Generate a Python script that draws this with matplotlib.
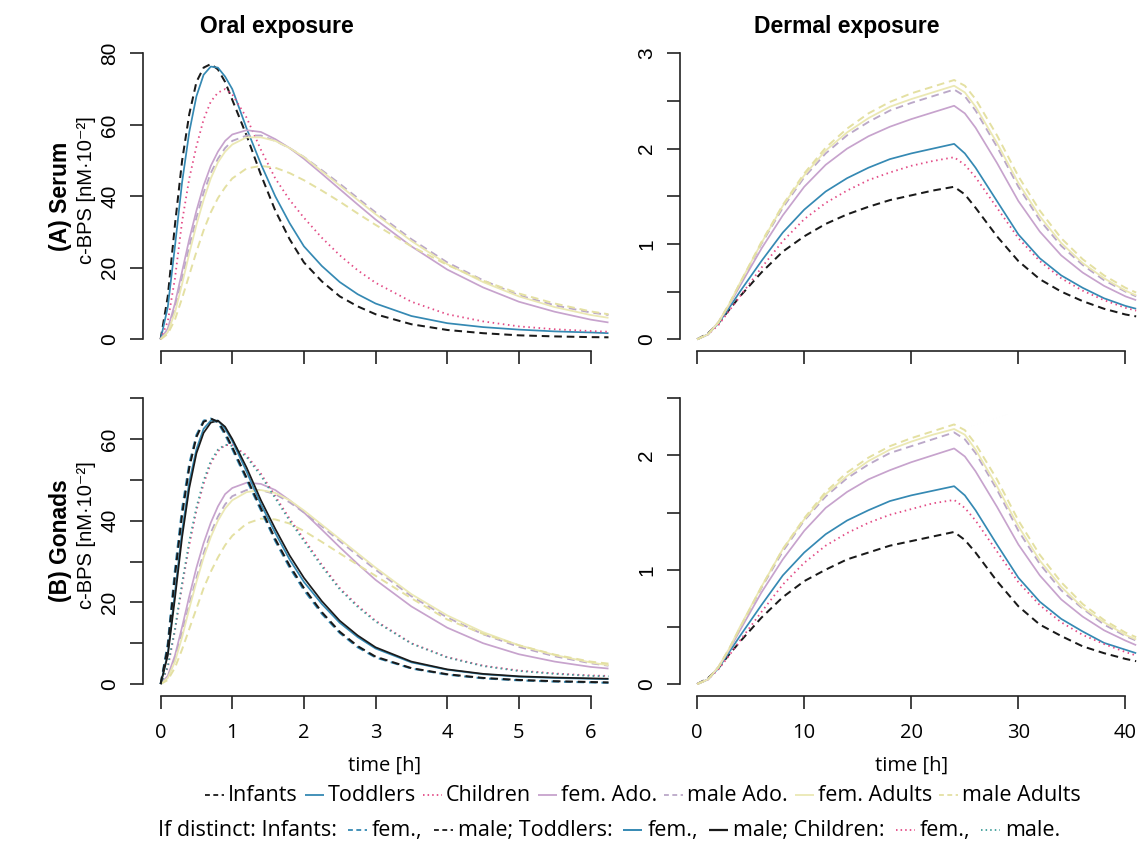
import matplotlib
matplotlib.use('Agg')
import matplotlib.pyplot as plt
from matplotlib.lines import Line2D

plt.rcParams['lines.scale_dashes'] = False

# ---------------- data ----------------
T_ORAL = [0, 0.1, 0.2, 0.3, 0.4, 0.5, 0.6, 0.7, 0.8, 0.9, 1.0, 1.2, 1.4, 1.6, 1.8,
          2.0, 2.25, 2.5, 2.75, 3.0, 3.5, 4.0, 4.5, 5.0, 5.5, 6.0, 6.25]
T_DERM = [0, 1, 2, 3, 4, 6, 8, 10, 12, 14, 16, 18, 20, 22, 24, 25, 26, 28, 30,
          32, 34, 36, 38, 40, 41]

# (A) Serum, oral exposure
serum_oral_infants = [0, 12, 32, 50, 63, 72, 76, 77, 75.5, 72, 67, 57, 46, 36, 28,
                      21.5, 16.2, 12, 9.2, 7, 4.2, 2.6, 1.7, 1.1, 0.8, 0.6, 0.55]
serum_oral_toddlers = [0, 9, 26, 44, 58, 68, 74, 76.3, 76, 73.5, 70, 59, 49, 40, 32.5,
                       26, 20.5, 16, 12.6, 10, 6.5, 4.5, 3.4, 2.7, 2.2, 1.9, 1.7]
serum_oral_children = [0, 5, 17, 33, 45, 54, 61.5, 66.5, 69, 70, 68.5, 62, 53, 45, 39,
                       34, 28.4, 23.5, 19.3, 15.8, 10.5, 7, 5, 3.6, 2.8, 2.3, 2.1]
serum_oral_femado = [0, 3, 10, 19, 28, 36, 43, 48.5, 52.5, 55.5, 57.3, 58.5, 58, 56, 53.5,
                     50.5, 46.3, 42, 37.7, 33.5, 26, 19.5, 14.5, 10.5, 7.7, 5.5, 4.7]
serum_oral_maleado = [0, 2.5, 8.5, 17, 26, 34, 41, 46.5, 50.5, 53.5, 55.5, 57, 57, 55.5, 53.5,
                      51, 47.3, 43.5, 39.5, 35.5, 28, 21.5, 16.5, 12.3, 9.5, 7.5, 6.8]
serum_oral_femadu = [0, 2, 7.5, 15.5, 24, 32, 39, 45, 49.5, 52.5, 54.5, 56.5, 56.5, 55.5, 53.5,
                     51, 47, 43, 39, 35, 27.5, 21, 16, 12, 9, 6.8, 6.0]
serum_oral_maleadu = [0, 1.5, 5.5, 11.5, 18, 24.5, 30.5, 35.5, 39.5, 42.5, 45, 47.8, 48.5, 48, 46.5,
                      44.5, 41.6, 38.5, 35.2, 32, 26, 20.8, 16.4, 12.8, 10, 7.8, 7.0]

# (A) Serum, dermal exposure
serum_derm_infants = [0, 0.06, 0.17, 0.31, 0.45, 0.70, 0.92, 1.08, 1.21, 1.31, 1.39, 1.46, 1.51,
                      1.56, 1.60, 1.52, 1.38, 1.08, 0.82, 0.63, 0.50, 0.40, 0.32, 0.26, 0.24]
serum_derm_toddlers = [0, 0.05, 0.17, 0.33, 0.50, 0.82, 1.12, 1.36, 1.55, 1.69, 1.80, 1.89, 1.95,
                       2.00, 2.05, 1.95, 1.80, 1.45, 1.10, 0.85, 0.67, 0.54, 0.43, 0.35, 0.32]
serum_derm_children = [0, 0.05, 0.15, 0.30, 0.45, 0.75, 1.03, 1.26, 1.43, 1.56, 1.67, 1.75, 1.82,
                       1.87, 1.91, 1.83, 1.70, 1.38, 1.06, 0.82, 0.64, 0.51, 0.41, 0.33, 0.30]
serum_derm_femado = [0, 0.05, 0.18, 0.36, 0.56, 0.95, 1.30, 1.60, 1.83, 2.00, 2.13, 2.23, 2.31,
                     2.38, 2.45, 2.37, 2.22, 1.85, 1.45, 1.13, 0.88, 0.70, 0.56, 0.45, 0.41]
serum_derm_maleado = [0, 0.05, 0.18, 0.37, 0.58, 1.00, 1.38, 1.70, 1.95, 2.14, 2.28, 2.40, 2.48,
                      2.55, 2.62, 2.55, 2.40, 2.02, 1.60, 1.25, 0.98, 0.78, 0.62, 0.50, 0.45]
serum_derm_femadu = [0, 0.05, 0.18, 0.37, 0.59, 1.01, 1.40, 1.72, 1.98, 2.17, 2.32, 2.44, 2.52,
                     2.59, 2.66, 2.59, 2.44, 2.06, 1.64, 1.29, 1.01, 0.80, 0.64, 0.51, 0.46]
serum_derm_maleadu = [0, 0.05, 0.18, 0.37, 0.59, 1.02, 1.41, 1.74, 2.01, 2.21, 2.37, 2.49, 2.58,
                      2.65, 2.72, 2.66, 2.52, 2.14, 1.71, 1.35, 1.06, 0.84, 0.67, 0.54, 0.49]

# (B) Gonads, oral exposure (sex-specific where distinct)
gon_oral_infants_f = [0, 10, 28, 43, 54, 61, 64.5, 65, 64, 61, 57.5, 50, 42.5, 35, 28.5,
                      23, 17.2, 12.5, 9.0, 6.5, 3.8, 2.3, 1.4, 0.9, 0.6, 0.4, 0.3]
gon_oral_infants_m = [0, 9, 26.5, 41.5, 53, 60.5, 64.2, 65, 64.2, 61.5, 58, 50.5, 43, 35.5, 29,
                      23.5, 17.6, 12.8, 9.3, 6.7, 3.9, 2.4, 1.5, 1.0, 0.7, 0.5, 0.4]
gon_oral_toddlers_f = [0, 7.5, 22.5, 37.5, 49.5, 57.5, 62.5, 64.5, 64.5, 62.5, 59.5, 52, 44, 37, 30.5,
                       25, 19.6, 15, 11.5, 8.7, 5.3, 3.5, 2.4, 1.8, 1.5, 1.3, 1.2]
gon_oral_toddlers_m = [0, 7, 21, 36, 48, 56.5, 61.5, 64, 64.5, 63, 60, 53, 45, 38, 31.5,
                       26, 20.3, 15.5, 11.9, 9, 5.5, 3.6, 2.5, 1.9, 1.6, 1.4, 1.3]
gon_oral_children_f = [0, 4, 13, 24, 34, 42.5, 49, 54, 57, 58.5, 58.5, 56, 51.5, 46, 40.5,
                       35.5, 29.2, 23.5, 19.2, 15.5, 10, 6.6, 4.5, 3.3, 2.6, 2.1, 2.0]
gon_oral_children_m = [0, 4.3, 13.5, 24.8, 35, 43.3, 49.8, 54.6, 57.4, 58.6, 58.3, 55.6, 51, 45.5, 40,
                       35, 28.8, 23.2, 18.9, 15.3, 9.9, 6.5, 4.4, 3.2, 2.5, 2.0, 1.9]
gon_oral_femado = [0, 2, 7, 14, 21.5, 28.5, 34.5, 39.5, 43.5, 46.5, 48, 49.3, 49, 47.5, 45,
                   42, 37.8, 33.5, 29.4, 25.5, 19, 13.8, 10, 7.3, 5.5, 4.2, 3.8]
gon_oral_maleado = [0, 1.8, 6, 12.5, 19.5, 26, 32, 37, 41, 44, 46, 47.5, 47.5, 46.5, 44.5,
                    42, 38.6, 35, 31.5, 28, 21.5, 16.3, 12.2, 9.1, 6.8, 5.1, 4.5]
gon_oral_femadu = [0, 1.5, 5.5, 11.5, 18.5, 25, 31, 36, 40, 43, 45, 47, 47.5, 46.8, 45,
                   42.5, 39, 35.5, 32, 28.5, 22, 16.8, 12.7, 9.5, 7.1, 5.3, 4.6]
gon_oral_maleadu = [0, 1, 4, 8.5, 13.5, 18.5, 23.5, 27.5, 31, 34, 36.3, 39.3, 40.5, 40.3, 39.3,
                    37.5, 34.8, 32, 29.2, 26.5, 21, 15.8, 12.3, 9.5, 7.2, 5.5, 5.0]

# (B) Gonads, dermal exposure
gon_derm_infants = [0, 0.05, 0.14, 0.26, 0.37, 0.58, 0.76, 0.90, 1.00, 1.09, 1.15, 1.21, 1.25,
                    1.29, 1.33, 1.26, 1.15, 0.90, 0.68, 0.52, 0.42, 0.33, 0.27, 0.22, 0.20]
gon_derm_toddlers = [0, 0.04, 0.14, 0.28, 0.42, 0.69, 0.95, 1.15, 1.31, 1.43, 1.52, 1.60, 1.65,
                     1.69, 1.73, 1.65, 1.52, 1.22, 0.93, 0.72, 0.57, 0.46, 0.36, 0.30, 0.27]
gon_derm_children = [0, 0.04, 0.13, 0.25, 0.38, 0.63, 0.87, 1.06, 1.21, 1.32, 1.41, 1.48, 1.53,
                     1.58, 1.61, 1.54, 1.43, 1.16, 0.89, 0.69, 0.54, 0.43, 0.35, 0.28, 0.25]
gon_derm_femado = [0, 0.04, 0.15, 0.30, 0.47, 0.80, 1.09, 1.34, 1.54, 1.68, 1.79, 1.87, 1.94,
                   2.00, 2.06, 1.99, 1.86, 1.55, 1.22, 0.95, 0.74, 0.59, 0.47, 0.38, 0.34]
gon_derm_maleado = [0, 0.04, 0.15, 0.31, 0.49, 0.84, 1.16, 1.43, 1.64, 1.80, 1.92, 2.02, 2.08,
                    2.14, 2.20, 2.14, 2.02, 1.70, 1.34, 1.05, 0.82, 0.66, 0.52, 0.42, 0.38]
gon_derm_femadu = [0, 0.04, 0.15, 0.31, 0.50, 0.85, 1.18, 1.44, 1.66, 1.82, 1.95, 2.05, 2.12,
                   2.18, 2.23, 2.18, 2.05, 1.73, 1.38, 1.08, 0.85, 0.67, 0.54, 0.43, 0.39]
gon_derm_maleadu = [0, 0.04, 0.15, 0.31, 0.49, 0.85, 1.18, 1.45, 1.68, 1.85, 1.98, 2.08, 2.15,
                    2.21, 2.27, 2.22, 2.10, 1.79, 1.43, 1.13, 0.89, 0.70, 0.56, 0.45, 0.41]

GROUPS = ['Infants', 'Toddlers', 'Children', 'fem. Ado.', 'male Ado.', 'fem. Adults', 'male Adults']

# ---------------- styles ----------------
BLACK = '#1a1a1a'
TEAL = '#3589b3'
PINK = '#e34b86'
PURPLE = '#c7a3cd'
LAV = '#bba8c8'
YEL = '#ebe8b4'
YELD = '#e4e0a2'
GTEAL = '#3f9e9a'
DASH = (0, (5.5, 3.5))
DOT = (0, (1.1, 2.6))
STY = {
    'Infants': dict(color=BLACK, ls=DASH, lw=1.45),
    'Toddlers': dict(color=TEAL, ls='-', lw=1.25),
    'Children': dict(color=PINK, ls=DOT, lw=1.3),
    'fem. Ado.': dict(color=PURPLE, ls='-', lw=1.25),
    'male Ado.': dict(color=LAV, ls=DASH, lw=1.35),
    'fem. Adults': dict(color=YEL, ls='-', lw=1.3),
    'male Adults': dict(color=YELD, ls=DASH, lw=1.4),
}

W, H = 1138, 842
fig = plt.figure(figsize=(W / 100, H / 100), dpi=100)
AX_FONT = 'Liberation Sans'
LF = ['Open Sans', 'DejaVu Sans']


def ax_at(l, t, r, b):
    return fig.add_axes([l / W, 1 - b / H, (r - l) / W, (b - t) / H])


def style_axes(ax, xlim, ylim, xticks, xb, yticks, ylabels, yb, xlab):
    ax.set_xlim(*xlim)
    ax.set_ylim(*ylim)
    for s in ('top', 'right'):
        ax.spines[s].set_visible(False)
    for s in ('left', 'bottom'):
        ax.spines[s].set_linewidth(1.2)
        ax.spines[s].set_color('#222222')
    ax.spines['left'].set_bounds(*yb)
    ax.spines['bottom'].set_bounds(*xb)
    ax.set_xticks(xticks)
    ax.set_yticks(yticks)
    ax.set_yticklabels(ylabels, fontsize=15, family=AX_FONT, rotation=90, va='center')
    if xlab:
        ax.set_xticklabels([('%g' % v) for v in xticks], fontsize=14.5, family=LF)
        ax.set_xlabel('time [h]', fontsize=14.5, family=LF, labelpad=9)
    else:
        ax.set_xticklabels([])
    ax.tick_params(length=9.5, width=1.2, color='#222222')
    ax.tick_params(axis='y', pad=7.5)
    ax.tick_params(axis='x', pad=10.5)
    ax.set_facecolor('none')


def draw(ax, t, series, name, **over):
    st = dict(STY[name])
    st.update(over)
    ax.plot(t, series, color=st['color'], linestyle=st['ls'], lw=st['lw'],
            solid_capstyle='butt', dash_capstyle='butt', solid_joinstyle='round')


# panel A oral
ax1 = ax_at(142.7, 41.9, 626.4, 350.7)
for name, s in zip(GROUPS, [serum_oral_infants, serum_oral_toddlers, serum_oral_children,
                            serum_oral_femado, serum_oral_maleado, serum_oral_femadu,
                            serum_oral_maleadu]):
    draw(ax1, T_ORAL, s, name)
style_axes(ax1, (-0.25, 6.5), (-3.2, 83.2), [0, 1, 2, 3, 4, 5, 6], (0, 6),
           [0, 20, 40, 60, 80], ['0', '20', '40', '60', '80'], (0, 80), False)

# panel A dermal
ax2 = ax_at(680, 41.9, 1142.6, 350.7)
for name, s in zip(GROUPS, [serum_derm_infants, serum_derm_toddlers, serum_derm_children,
                            serum_derm_femado, serum_derm_maleado, serum_derm_femadu,
                            serum_derm_maleadu]):
    draw(ax2, T_DERM, s, name)
style_axes(ax2, (-1.6, 41.6), (-0.12, 3.12), [0, 10, 20, 30, 40], (0, 40),
           [0, 0.5, 1, 1.5, 2, 2.5, 3], ['0', '', '1', '', '2', '', '3'], (0, 3), False)

# panel B oral
ax3 = ax_at(142.7, 386.7, 626.4, 695.5)
draw(ax3, T_ORAL, gon_oral_femado, 'fem. Ado.')
draw(ax3, T_ORAL, gon_oral_maleado, 'male Ado.')
draw(ax3, T_ORAL, gon_oral_femadu, 'fem. Adults')
draw(ax3, T_ORAL, gon_oral_maleadu, 'male Adults')
draw(ax3, T_ORAL, gon_oral_children_f, 'Children')
draw(ax3, T_ORAL, gon_oral_children_m, 'Children', color=GTEAL)
draw(ax3, T_ORAL, gon_oral_toddlers_f, 'Toddlers')
draw(ax3, T_ORAL, gon_oral_toddlers_m, 'Toddlers', color=BLACK)
draw(ax3, T_ORAL, gon_oral_infants_f, 'Infants', color=TEAL)
draw(ax3, T_ORAL, gon_oral_infants_m, 'Infants')
style_axes(ax3, (-0.25, 6.5), (-2.8, 72.8), [0, 1, 2, 3, 4, 5, 6], (0, 6),
           [0, 10, 20, 30, 40, 50, 60, 70], ['0', '', '20', '', '40', '', '60', ''], (0, 70), True)

# panel B dermal
ax4 = ax_at(680, 386.7, 1142.6, 695.5)
for name, s in zip(GROUPS, [gon_derm_infants, gon_derm_toddlers, gon_derm_children,
                            gon_derm_femado, gon_derm_maleado, gon_derm_femadu,
                            gon_derm_maleadu]):
    draw(ax4, T_DERM, s, name)
style_axes(ax4, (-1.6, 41.6), (-0.1, 2.6), [0, 10, 20, 30, 40], (0, 40),
           [0, 0.5, 1, 1.5, 2, 2.5], ['0', '', '1', '', '2', ''], (0, 2.5), True)

# titles & row labels
fig.text(277 / W, 1 - 27 / H, 'Oral exposure', fontsize=16.5, fontweight='bold',
         family=AX_FONT, ha='center', va='center')
fig.text(847 / W, 1 - 27 / H, 'Dermal exposure', fontsize=16.5, fontweight='bold',
         family=AX_FONT, ha='center', va='center')
for yc, lab in [(196, '(A) Serum'), (541, '(B) Gonads')]:
    fig.text(60 / W, 1 - yc / H, lab, fontsize=16.5, fontweight='bold', family=AX_FONT,
             rotation=90, ha='center', va='center')
    fig.text(87 / W, 1 - (yc - 6) / H, 'c-BPS [nM\u00b710\u207b\u00b2]', fontsize=14.5,
             family=[AX_FONT, 'DejaVu Sans'], rotation=90, ha='center', va='center')

# ---------------- legend rows (text with inline line samples) ----------------
renderer = fig.canvas.get_renderer()
LFS = 15.5


def legend_row(x0, base, items):
    x = x0
    ymid = base - 6
    for it in items:
        kind = it[0]
        if kind == 't':
            t = fig.text(x / W, 1 - base / H, it[1], fontsize=LFS, family=LF,
                         ha='left', va='baseline')
            x += t.get_window_extent(renderer=renderer).width
        elif kind == 'g':
            x += it[1]
        else:
            color, ls, lw, L = it[1], it[2], it[3], it[4]
            fig.add_artist(Line2D([x / W, (x + L) / W], [1 - ymid / H] * 2,
                                  transform=fig.transFigure, color=color, linestyle=ls,
                                  lw=lw, solid_capstyle='butt', dash_capstyle='butt'))
            x += L
    return x


LDASH = (0, (3.5, 2.5))
LDOT = (0, (1.1, 2.2))
SL = 19
row1 = []
for name in GROUPS:
    st = STY[name]
    ls = LDASH if st['ls'] == DASH else (LDOT if st['ls'] == DOT else '-')
    row1 += [('l', st['color'], ls, 1.3, SL), ('g', 4), ('t', name), ('g', 7)]
legend_row(205, 801, row1)

row2 = [('t', 'If distinct: Infants:'), ('g', 11), ('l', TEAL, LDASH, 1.3, SL), ('g', 5),
        ('t', 'fem.,'), ('g', 11), ('l', BLACK, LDASH, 1.3, SL), ('g', 5),
        ('t', 'male; Toddlers:'), ('g', 11), ('l', TEAL, '-', 1.4, SL), ('g', 5),
        ('t', 'fem.,'), ('g', 11), ('l', BLACK, '-', 1.6, SL), ('g', 5),
        ('t', 'male; Children:'), ('g', 11), ('l', PINK, LDOT, 1.3, SL), ('g', 5),
        ('t', 'fem.,'), ('g', 11), ('l', GTEAL, LDOT, 1.3, SL), ('g', 5), ('t', 'male.')]
legend_row(158, 836, row2)

fig.savefig('out.png', dpi=100)
